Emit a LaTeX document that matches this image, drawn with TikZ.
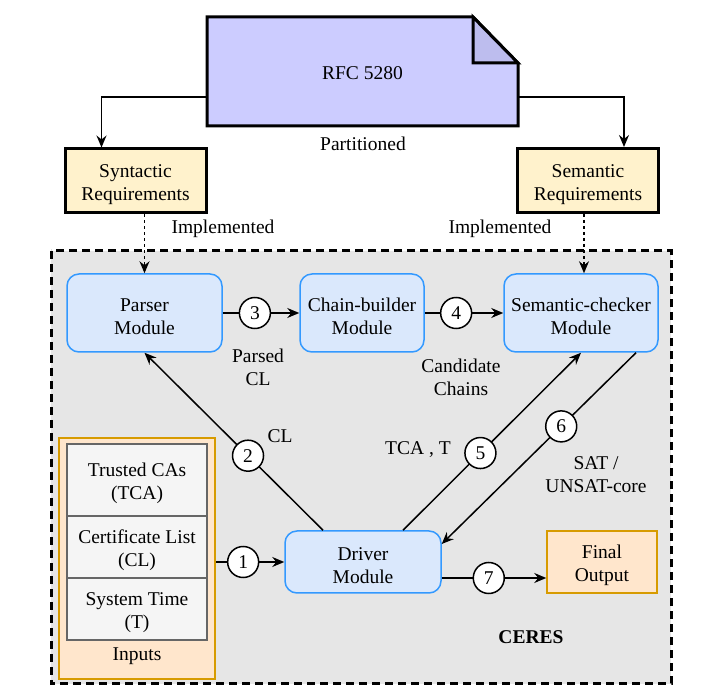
\documentclass[tikz,border=0pt]{standalone}
\usepackage{fontspec}
\setmainfont{Liberation Serif}
\usetikzlibrary{positioning,arrows.meta}

\definecolor{docfill}{HTML}{CCCCFF}
\definecolor{docfold}{HTML}{BDBDEE}
\definecolor{reqfill}{HTML}{FFF2CC}
\definecolor{modfill}{HTML}{DAE8FC}
\definecolor{moddraw}{HTML}{3399FF}
\definecolor{outfill}{HTML}{FFE6CC}
\definecolor{outdraw}{HTML}{D79B00}
\definecolor{cellfill}{HTML}{F5F5F5}
\definecolor{celldraw}{HTML}{666666}
\definecolor{ceresfill}{HTML}{E6E6E6}

% lowers the text of a two-line box a little
\newcommand{\lowstrut}{\rule{0pt}{21pt}}

\begin{document}
\begin{tikzpicture}[x=1pt, y=-1pt,
    font=\fontsize{19.5}{23}\selectfont,
    >={Stealth[length=12pt,width=10pt,inset=4pt]},
    conn/.style={line width=1.5pt},
    reqbox/.style={draw, line width=3pt, fill=reqfill, align=center,
      minimum width=141pt, minimum height=64pt},
    modbox/.style={draw=moddraw, line width=1.5pt, fill=modfill,
      rounded corners=12pt, align=center, minimum height=78pt},
    outbox/.style={draw=outdraw, line width=1.5pt, fill=outfill, align=center},
    cellbox/.style={draw=celldraw, line width=1.5pt, fill=cellfill,
      align=center, minimum width=140pt},
    numcirc/.style={circle, draw, fill=white, line width=1.5pt,
      minimum size=31pt, inner sep=0pt},
    lbl/.style={align=center}]
    \useasboundingbox (0,0) rectangle (724,700);

    % CERES container
    \draw[fill=ceresfill, line width=3pt, dash pattern=on 8pt off 5pt]
      (51,251) rectangle (671,684);
    \node[font=\fontsize{19.5}{23}\selectfont\bfseries] (ceres) at (531,637) {CERES};

    % RFC document with folded corner
    \def\fold{45}
    \draw[fill=docfill, line width=3pt, line join=miter]
      (207,17) -- (518-\fold,17) -- (518,63) -- (518,126) -- (207,126) -- cycle;
    \draw[fill=docfold, line width=3pt, line join=miter]
      (518-\fold,17) -- (518-\fold,63) -- (518,63) -- cycle;
    \node[minimum width=311pt, minimum height=109pt] (rfc) at (362.5,73) {RFC 5280};
    \node (part) at (363,144) {Partitioned};

    % requirements
    \node[reqbox] (syn) at (135.5,181) {\lowstrut Syntactic\\Requirements};
    \node[reqbox] (semreq) at (588,180.5) {\lowstrut Semantic\\Requirements};
    \draw[conn,->] ([yshift=-24pt]rfc.west) -| ([xshift=-34pt]syn.north);
    \draw[conn,->] ([yshift=-24pt]rfc.east) -| ([xshift=36pt]semreq.north);

    % modules
    \node[modbox, minimum width=155pt] (parser) at (144.5,313) {\lowstrut Parser\\Module};
    \node[modbox, minimum width=124pt] (chain) at (362,313) {\lowstrut Chain-builder\\Module};
    \node[modbox, minimum width=154pt] (sem) at (581,313) {\lowstrut Semantic-checker\\Module};
    \node[modbox, minimum width=156pt, minimum height=62pt] (driver) at (363,562) {\lowstrut Driver\\Module};
    \node[outbox, minimum width=110pt, minimum height=62pt] (final) at (602,562) {\lowstrut Final\\Output};

    \draw[conn,->,dashed] (parser.north |- syn.south) -- (parser.north);
    \draw[conn,->,dashed] ([xshift=3pt]sem.north |- semreq.south) -- ([xshift=3pt]sem.north);
    \node (impl1) at (223,229) {Implemented};
    \node (impl2) at (500,229) {Implemented};

    % inputs
    \node[outbox, minimum width=156pt, minimum height=241pt] (inputs) at (137,558.5) {};
    \node[cellbox, minimum height=72pt] (tca) at (137,480) {\lowstrut Trusted CAs\\(TCA)};
    \node[cellbox, minimum height=62pt] (cl) at (137,547) {\lowstrut Certificate List\\(CL)};
    \node[cellbox, minimum height=62pt] (time) at (137,609) {\lowstrut System Time\\(T)};
    \node (inlbl) at (137,656) {Inputs};

    % numbered flows
    \draw[conn,->] (inputs.east |- driver.west) -- node[numcirc,pos=0.4] {1} (driver.west);
    \draw[conn,->] ([xshift=-40pt]driver.north) -- node[numcirc,pos=0.42] {2} (parser.south);
    \draw[conn,->] (parser) -- node[numcirc,pos=0.42] {3} (chain);
    \draw[conn,->] (chain) -- node[numcirc,pos=0.4] {4} (sem);
    \draw[conn,->] ([xshift=40pt]driver.north) -- node[numcirc,pos=0.435] {5} (sem.south);
    \draw[conn,->] ([xshift=55pt]sem.south) -- node[numcirc,pos=0.385] {6} ([yshift=18pt]driver.east);
    \draw[conn,->] ([yshift=-16pt]driver.east) -- node[numcirc,pos=0.45] {7} ([yshift=-16pt]final.west);

    % flow labels
    \node[lbl] (l3) at (258,367) {Parsed\\CL};
    \node[lbl] (l4) at (461,377) {Candidate\\Chains};
    \node (l2) at (280,436) {CL};
    \node (l5) at (418,450) {TCA , T};
    \node[lbl] (l6) at (596,475) {SAT /\\UNSAT-core};
\end{tikzpicture}
\end{document}
